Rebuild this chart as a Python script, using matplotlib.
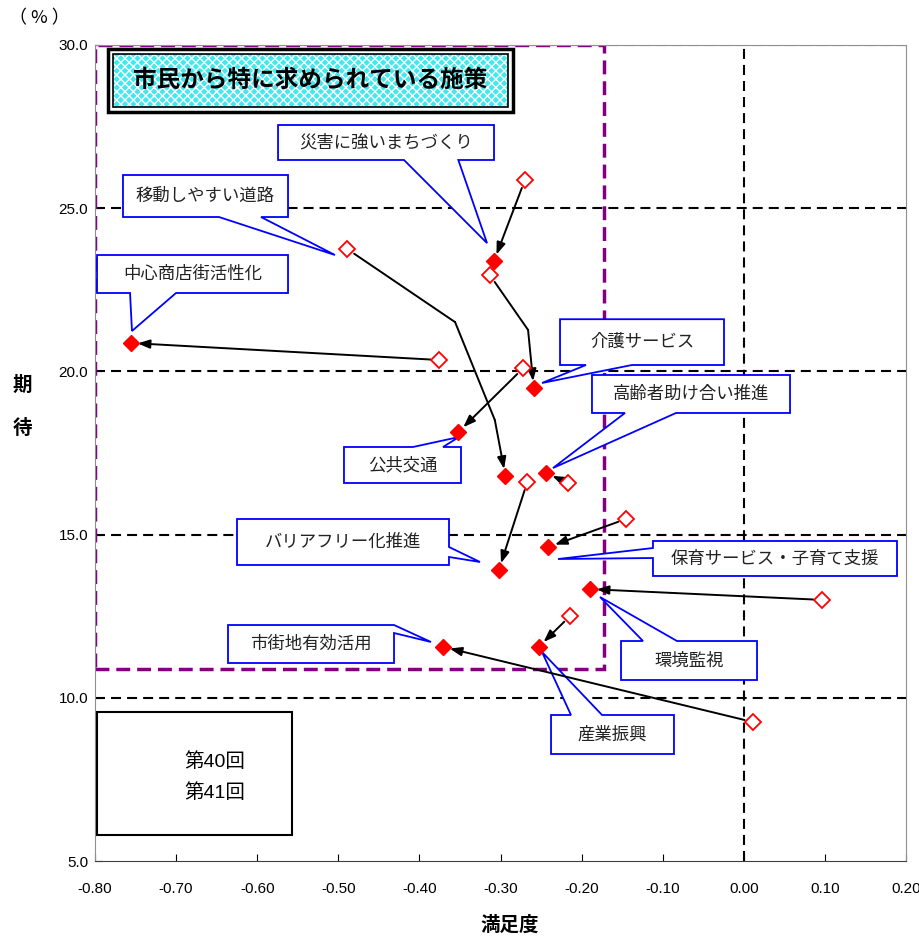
"""
市民から特に求められている施策 - 満足度 / 期待 散布図 (第40回 → 第41回)
"""

import matplotlib
matplotlib.use("Agg")
import matplotlib.pyplot as plt
from matplotlib.patches import Polygon, Rectangle

plt.rcParams["font.family"] = ["Liberation Sans", "Noto Sans CJK JP", "DejaVu Sans"]

# ---- data ----
items = [
    "災害に強いまちづくり", "移動しやすい道路", "中心商店街活性化", "介護サービス",
    "高齢者助け合い推進", "公共交通", "バリアフリー化推進", "保育サービス・子育て支援",
    "環境監視", "産業振興", "市街地有効活用",
]
sat_40 = [-0.270, -0.489, -0.376, -0.313, -0.217, -0.272, -0.267, -0.145, 0.096, -0.214, 0.011]
exp_40 = [25.86, 23.75, 20.35, 22.95, 16.58, 20.10, 16.61, 15.48, 13.00, 12.51, 9.26]
sat_41 = [-0.308, -0.294, -0.756, -0.259, -0.244, -0.352, -0.302, -0.241, -0.190, -0.253, -0.371]
exp_41 = [23.38, 16.80, 20.87, 19.49, 16.89, 18.14, 13.92, 14.62, 13.33, 11.56, 11.56]

# bent connectors (index -> bend points)
bends = {
    1: [(-0.356, 21.51), (-0.307, 18.51)],
    3: [(-0.266, 21.27)],
}

x_ticks = [-0.8, -0.7, -0.6, -0.5, -0.4, -0.3, -0.2, -0.1, 0.0, 0.1, 0.2]
y_ticks = [5, 10, 15, 20, 25, 30]

# ---- callout layout: box (x0, y0, x1, y1), side, wedge base, tip ----
callouts = [
    ((-0.5743, 26.477, -0.3080, 27.549), "bottom", (-0.419, -0.352), (-0.3166, 23.93)),
    ((-0.7655, 24.730, -0.562, 26.017), "bottom", (-0.6471, -0.5953), (-0.5041, 23.566)),
    ((-0.7975, 22.402, -0.562, 23.566), "bottom", (-0.7568, -0.7001), (-0.7544, 21.238)),
    ((-0.2266, 20.196, -0.0244, 21.599), "bottom", (-0.1946, -0.1379), (-0.2488, 19.645)),
    ((-0.1872, 18.726, 0.0570, 19.890), "bottom", (-0.1465, -0.0836), (-0.2353, 17.040)),
    ((-0.4930, 16.581, -0.3487, 17.684), "top", (-0.4079, -0.3709), (-0.3512, 17.990)),
    ((-0.6249, 14.069, -0.3635, 15.478), "right", (14.314, 14.620), (-0.3253, 14.161)),
    ((-0.1120, 13.732, 0.1889, 14.804), "left", (14.283, 14.589), (-0.2291, 14.252)),
    ((-0.1514, 10.545, 0.0163, 11.740), "top", (-0.1243, -0.0824), (-0.1773, 13.088)),
    ((-0.2377, 8.278, -0.0861, 9.473), "top", (-0.2131, -0.1748), (-0.2488, 11.403)),
    ((-0.6360, 11.066, -0.4313, 12.230), "right", (11.985, 12.230), (-0.3857, 11.710)),
]


def callout(ax, text, box, side, base, tip):
    x0, y0, x1, y1 = box
    lo, hi = sorted(base)
    if side == "top":
        pts = [(x0, y1), (lo, y1), tip, (hi, y1), (x1, y1), (x1, y0), (x0, y0)]
    elif side == "right":
        pts = [(x0, y1), (x1, y1), (x1, hi), tip, (x1, lo), (x1, y0), (x0, y0)]
    elif side == "bottom":
        pts = [(x0, y1), (x1, y1), (x1, y0), (hi, y0), tip, (lo, y0), (x0, y0)]
    else:
        pts = [(x0, y1), (x1, y1), (x1, y0), (x0, y0), (x0, lo), tip, (x0, hi)]
    ax.add_patch(Polygon(pts, closed=True, facecolor="white", edgecolor="#0000FF",
                         lw=1.3, zorder=4))
    ax.text((x0 + x1) / 2, (y0 + y1) / 2, text, ha="center", va="center",
            fontsize=12.5, color="#222222", zorder=4.5)


fig = plt.figure(figsize=(9.2, 9.38), dpi=100)
ax = fig.add_axes([95 / 920, 1 - 861 / 938, 811 / 920, 816 / 938])
ax.set_xlim(-0.8, 0.2)
ax.set_ylim(5, 30)

# reference lines
for y in [10, 15, 20, 25, 30]:
    ax.axhline(y, color="black", lw=1.5, linestyle=(0, (4.8, 2.9)), zorder=1)
ax.axvline(0.0, color="black", lw=1.5, linestyle=(0, (4.8, 2.9)), zorder=1)

# purple focus area
ax.add_patch(Rectangle((-0.8, 10.88), 0.628, 19.12, fill=False, edgecolor="#800080",
                       lw=2.5, linestyle=(0, (4, 2)), zorder=2))

# title box
ax.add_patch(Rectangle((-0.784, 27.947), 0.4994, 1.93, facecolor="white",
                       edgecolor="black", lw=2.5, zorder=3))
ax.add_patch(Rectangle((-0.7778, 28.100), 0.4871, 1.624, facecolor="#40E8F0",
                       edgecolor="white", lw=0, hatch="xxxx", zorder=3.1))
ax.add_patch(Rectangle((-0.7778, 28.100), 0.4871, 1.624, fill=False,
                       edgecolor="black", lw=1.2, zorder=3.2))
ax.text(-0.5343, 28.93, "市民から特に求められている施策", ha="center", va="center",
        fontsize=17, fontweight="bold", family=["Noto Sans CJK JP"], zorder=3.3)

# callouts
for name, (box, side, base, tip) in zip(items, callouts):
    callout(ax, name, box, side, base, tip)

# connectors 第40回 -> 第41回
arrow_kw = dict(arrowstyle="-|>,head_length=0.6,head_width=0.22", color="black",
                lw=1.4, mutation_scale=12)
for i in range(len(items)):
    start = (sat_40[i], exp_40[i])
    end = (sat_41[i], exp_41[i])
    if i in bends:
        pts = [start] + bends[i]
        ax.annotate("", xy=pts[1], xytext=pts[0],
                    arrowprops=dict(arrowstyle="-", color="black", lw=1.4,
                                    shrinkA=6, shrinkB=0), zorder=5)
        for p, q in zip(pts[1:-1], pts[2:]):
            ax.plot([p[0], q[0]], [p[1], q[1]], color="black", lw=1.4, zorder=5)
        start = pts[-1]
        ax.annotate("", xy=end, xytext=start,
                    arrowprops=dict(**arrow_kw, shrinkA=0, shrinkB=5), zorder=5)
    else:
        ax.annotate("", xy=end, xytext=start,
                    arrowprops=dict(**arrow_kw, shrinkA=6, shrinkB=5), zorder=5)

# markers
ax.plot(sat_40, exp_40, linestyle="none", marker="D", markersize=8,
        markerfacecolor="white", markeredgecolor="#FF0000", markeredgewidth=1.3, zorder=6)
ax.plot(sat_41, exp_41, linestyle="none", marker="D", markersize=8,
        markerfacecolor="#FF0000", markeredgecolor="#FF0000", zorder=6)

# legend-like box
ax.add_patch(Rectangle((-0.7975, 5.797), 0.2404, 3.768, facecolor="white",
                       edgecolor="black", lw=1.5, zorder=7))
ax.text(-0.652, 8.03, "第40回", ha="center", va="center", fontsize=14, zorder=8)
ax.text(-0.652, 7.08, "第41回", ha="center", va="center", fontsize=14, zorder=8)

# axes styling
ax.set_xticks(x_ticks)
ax.set_xticklabels([f"{v:.2f}" for v in x_ticks])
ax.set_yticks(y_ticks)
ax.set_yticklabels([f"{v:.1f}" for v in y_ticks])
ax.tick_params(axis="x", direction="in", length=5, pad=15, labelsize=11)
ax.tick_params(axis="y", direction="in", length=5, pad=5, labelsize=11)
for s in ["left", "top", "right"]:
    ax.spines[s].set_color("#909090")
ax.spines["bottom"].set_color("#404040")

fig.text(39 / 920, 1 - 18 / 938, "（ % ）", ha="center", va="center", fontsize=13,
         family=["Noto Sans CJK JP"])
fig.text(22 / 920, 1 - 385 / 938, "期", ha="center", va="center", fontsize=14,
         fontweight="bold", family=["Noto Sans CJK JP"])
fig.text(22 / 920, 1 - 428 / 938, "待", ha="center", va="center", fontsize=14,
         fontweight="bold", family=["Noto Sans CJK JP"])
fig.text(510 / 920, 1 - 925 / 938, "満足度", ha="center", va="center", fontsize=14,
         fontweight="bold", family=["Noto Sans CJK JP"])

fig.savefig("out.png", dpi=100)
